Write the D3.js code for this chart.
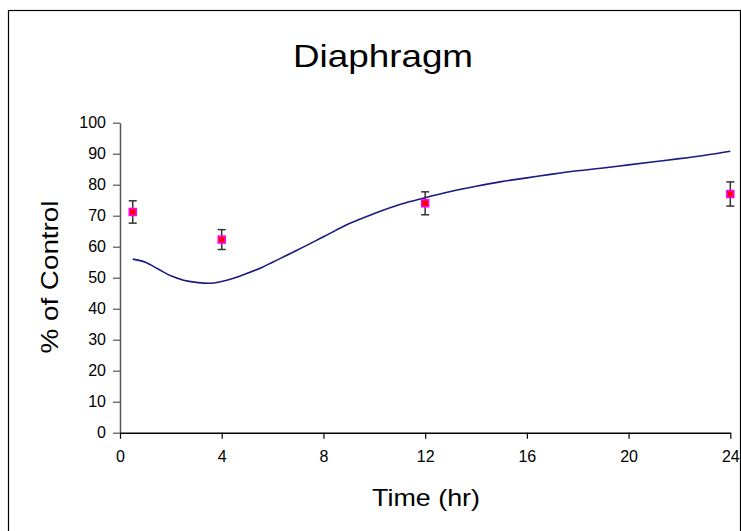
<!DOCTYPE html>
<html><head><meta charset="utf-8">
<script src="https://cdn.jsdelivr.net/npm/d3@7"></script>
<style>body{margin:0;background:#fff}svg{display:block}text{font-family:"Liberation Sans",Arial,sans-serif;fill:#000}</style>
</head><body>
<svg id="c" width="741" height="531"></svg>
<script>
// Data
const title = "Diaphragm";
const xLabel = "Time (hr)";
const yLabel = "% of Control";
const xTicks = [0, 4, 8, 12, 16, 20, 24];
const yTicks = [0, 10, 20, 30, 40, 50, 60, 70, 80, 90, 100];
// measured points with error bars
const obsTime = [0.5, 4, 12, 24];
const obsMean = [71.2, 62.3, 74.0, 77.0];
const obsErr  = [3.6, 3.2, 3.7, 3.9];
// model curve
const curveTime = [0.5, 1, 1.5, 2, 2.5, 3, 3.5, 4, 4.5, 5, 5.6, 6, 7, 8, 9, 10, 11, 12, 13, 14, 15, 16, 17, 18, 19, 20, 21, 22, 23, 24];
const curveVal  = [56.0, 55.0, 52.8, 50.6, 49.2, 48.5, 48.2, 48.8, 49.9, 51.4, 53.4, 55.0, 59.0, 63.2, 67.4, 70.7, 73.6, 75.8, 77.8, 79.5, 81.0, 82.2, 83.4, 84.5, 85.4, 86.4, 87.4, 88.4, 89.5, 90.8];

const svg = d3.select("#c");
const x = d3.scaleLinear().domain([0, 24]).range([120, 730.3]);
const y = d3.scaleLinear().domain([0, 100]).range([432.7, 122.7]);

// outer border
svg.append("rect").attr("x", 8.5).attr("y", 10.5).attr("width", 732).attr("height", 540)
  .attr("fill", "none").attr("stroke", "#000").attr("stroke-width", 1.2);

// Title
svg.append("text").attr("x", 383).attr("y", 67).attr("text-anchor", "middle")
  .attr("font-size", 32).attr("textLength", 180).attr("lengthAdjust", "spacingAndGlyphs").text(title);

// Axes
const yAxis = svg.append("g").attr("transform", "translate(120,0)")
  .call(d3.axisLeft(y).tickValues(yTicks).tickSize(7).tickPadding(7).tickSizeOuter(0));
yAxis.select(".domain").attr("stroke", "#555").attr("stroke-width", 1.5);
yAxis.selectAll(".tick line").attr("stroke", "#555").attr("stroke-width", 1.2);
yAxis.selectAll(".tick text").attr("font-size", 16).attr("fill", "#000")
  .style("font-family", "'Liberation Sans', Arial, sans-serif");

const xAxis = svg.append("g").attr("transform", `translate(0,${y(0)})`)
  .call(d3.axisBottom(x).tickValues(xTicks).tickSize(6).tickPadding(12).tickSizeOuter(0));
xAxis.select(".domain").attr("stroke", "#000").attr("stroke-width", 1.5);
xAxis.selectAll(".tick line").attr("stroke", "#000").attr("stroke-width", 1.2);
xAxis.selectAll(".tick text").attr("font-size", 16).attr("fill", "#000")
  .style("font-family", "'Liberation Sans', Arial, sans-serif");

// Axis labels
svg.append("text").attr("x", 426).attr("y", 506).attr("text-anchor", "middle")
  .attr("font-size", 24.5).attr("textLength", 108).attr("lengthAdjust", "spacingAndGlyphs").text(xLabel);
svg.append("text").attr("transform", "translate(58,277) rotate(-90)").attr("text-anchor", "middle")
  .attr("font-size", 24.5).attr("textLength", 153).attr("lengthAdjust", "spacingAndGlyphs").text(yLabel);

// Curve
const pts = curveTime.map((t, i) => [t, curveVal[i]]);
svg.append("path").datum(pts)
  .attr("d", d3.line().x(d => x(d[0])).y(d => y(d[1])).curve(d3.curveMonotoneX))
  .attr("fill", "none").attr("stroke", "#1a1a80").attr("stroke-width", 1.6);

// Error bars
const obs = obsTime.map((t, i) => ({t, m: obsMean[i], e: obsErr[i]}));
const eb = svg.append("g").attr("stroke", "#333").attr("stroke-width", 1.5);
obs.forEach(d => {
  const cx = x(d.t), y1 = y(d.m + d.e), y2 = y(d.m - d.e);
  eb.append("line").attr("x1", cx).attr("x2", cx).attr("y1", y1).attr("y2", y2);
  eb.append("line").attr("x1", cx - 4).attr("x2", cx + 4).attr("y1", y1).attr("y2", y1);
  eb.append("line").attr("x1", cx - 4).attr("x2", cx + 4).attr("y1", y2).attr("y2", y2);
});
// Markers
svg.append("g").selectAll("rect").data(obs).join("rect")
  .attr("x", d => x(d.t) - 3.5).attr("y", d => y(d.m) - 3.5)
  .attr("width", 7).attr("height", 7)
  .attr("fill", "#ff0000").attr("stroke", "#ff00ff").attr("stroke-width", 1.5);
</script>
</body></html>
